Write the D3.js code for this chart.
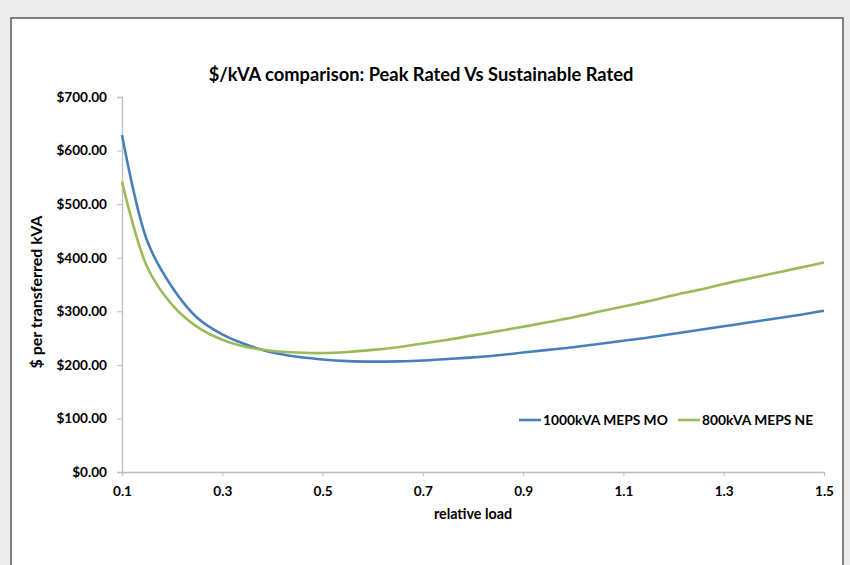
<!DOCTYPE html>
<html>
<head>
<meta charset="utf-8">
<script src="https://cdn.jsdelivr.net/npm/d3@7"></script>
<style>
  html, body { margin: 0; padding: 0; background: #ececec; }
  svg { display: block; }
  text { font-family: Lato, "Open Sans", sans-serif; font-weight: bold; fill: #000; }
</style>
</head>
<body>
<svg id="chart" width="850" height="565"></svg>
<script>
const loads = [0.10,0.15,0.20,0.25,0.30,0.35,0.40,0.45,0.50,0.55,0.60,0.65,0.70,0.75,0.80,0.85,0.90,0.95,1.00,1.05,1.10,1.15,1.20,1.25,1.30,1.35,1.40,1.45,1.50];
const mepsMO1000 = [629,432,345,288,257,237,223,215,210,207,206,206.5,208,211,214,218,223,228,233,239,245,251,258,265,272,279,286,293,301];
const mepsNE800 = [542,383,312,271,247,233,226,223,222,224,228,233,240,247,255,263,271,280,289,299,309,319,330,340,351,361,371,381,391];
const seriesNames = ["1000kVA MEPS MO", "800kVA MEPS NE"];
const seriesColors = ["#4a7ebb", "#9bbb59"];
const xTicks = [0.1,0.3,0.5,0.7,0.9,1.1,1.3,1.5];
const yTicks = [0,100,200,300,400,500,600,700];
const titleText = "$/kVA comparison: Peak Rated Vs Sustainable Rated";
const xTitle = "relative load";
const yTitle = "$ per transferred kVA";

const svg = d3.select("#chart");

// chart frame
svg.append("rect")
  .attr("x", 11).attr("y", 18).attr("width", 832).attr("height", 600)
  .attr("fill", "#ffffff").attr("stroke", "#5a5a5a").attr("stroke-width", 1.5);

const x = d3.scaleLinear().domain([0.1, 1.5]).range([122, 824]);
const y = d3.scaleLinear().domain([0, 700]).range([472, 97]);

// axes
const xAxis = svg.append("g").attr("transform", "translate(0,472)")
  .call(d3.axisBottom(x).tickValues(xTicks).tickSize(4).tickPadding(8)
        .tickFormat(d3.format(".1f")));
const yAxis = svg.append("g").attr("transform", "translate(122,0)")
  .call(d3.axisLeft(y).tickValues(yTicks).tickSize(5).tickPadding(10)
        .tickFormat(d => "$" + d3.format(".2f")(d)));

[xAxis, yAxis].forEach(g => {
  g.select(".domain").attr("stroke", "#bdbdbd").attr("stroke-width", 1.3);
  g.selectAll(".tick line").attr("stroke", "#bdbdbd").attr("stroke-width", 1);
  g.selectAll(".tick text").attr("font-size", 13.6).attr("font-family", "Lato, sans-serif")
    .attr("font-weight", "bold").attr("fill", "#000");
});
xAxis.selectAll(".tick text").attr("dy", "0.9em");

// lines
const line = d3.line().x((d, i) => x(loads[i])).y(d => y(d)).curve(d3.curveCatmullRom.alpha(0.5));
[mepsMO1000, mepsNE800].forEach((s, k) => {
  svg.append("path").datum(s)
    .attr("d", line)
    .attr("fill", "none")
    .attr("stroke", seriesColors[k])
    .attr("stroke-width", 2.6)
    .attr("stroke-linejoin", "round");
});

// title
svg.append("text").attr("x", 421).attr("y", 81)
  .attr("text-anchor", "middle").attr("font-size", 18.3).text(titleText);

// axis titles
svg.append("text").attr("x", 473).attr("y", 519)
  .attr("text-anchor", "middle").attr("font-size", 14.3).text(xTitle);
svg.append("text").attr("transform", "translate(42,292) rotate(-90)")
  .attr("text-anchor", "middle").attr("font-size", 16).text(yTitle);

// legend
const legX = [519, 678];
seriesNames.forEach((n, k) => {
  svg.append("line").attr("x1", legX[k]).attr("x2", legX[k] + 22)
    .attr("y1", 420).attr("y2", 420)
    .attr("stroke", seriesColors[k]).attr("stroke-width", 2.6);
  svg.append("text").attr("x", legX[k] + 24).attr("y", 424.5)
    .attr("font-size", 13.8).text(n);
});
</script>
</body>
</html>
